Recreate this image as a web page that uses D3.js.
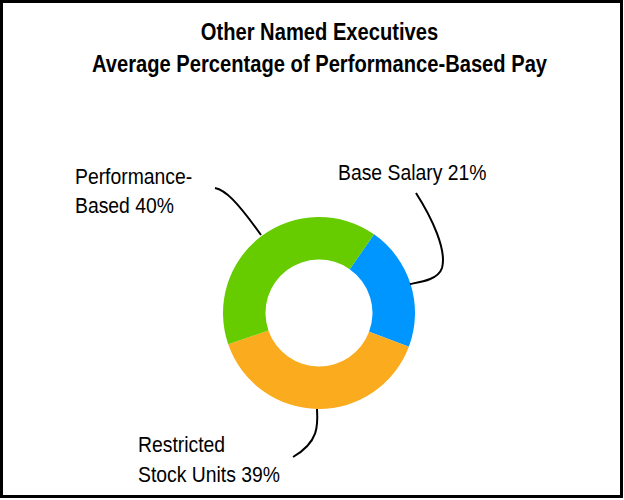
<!DOCTYPE html>
<html>
<head>
<meta charset="utf-8">
<script src="https://cdn.jsdelivr.net/npm/d3@7"></script>
<style>
  html, body { margin: 0; padding: 0; background: #fff; }
  svg { display: block; }
  text { font-family: "Liberation Sans", Arial, sans-serif; fill: #000; }
</style>
</head>
<body>
<svg id="chart" width="624" height="500"></svg>
<script>
// ---- data ----
const titleLines = ["Other Named Executives", "Average Percentage of Performance-Based Pay"];
const categories = ["Base Salary", "Restricted Stock Units", "Performance-Based"];
const values = [21, 39, 40];
const colors = ["#0096FF", "#FAAC1E", "#66CC00"];
const labelLines = [
  ["Base Salary 21%"],
  ["Restricted", "Stock Units 39%"],
  ["Performance-", "Based 40%"]
];

// ---- layout ----
const W = 624, H = 500;
const cx = 319, cy = 313, outerR = 96, innerR = 53.5;
const startDeg = 35;
const labelPos = [
  { x: 338, y: 179.5 },
  { x: 138, y: 452 },
  { x: 75, y: 183.5 }
];
const lineH = 29.5;
const leaders = [
  "M416,193 C432,218 447,250 442,268 C438,280 420,282 410,284",
  "M317,409 C318,425 319,442 293,457",
  "M215,188 C225,190 236,200 261,235"
];

const svg = d3.select("#chart");

svg.append("rect")
  .attr("x", 1.5).attr("y", 1.5)
  .attr("width", 620).attr("height", 495)
  .attr("fill", "#fff").attr("stroke", "#000").attr("stroke-width", 3);

// title
titleLines.forEach((t, i) => {
  svg.append("g")
    .attr("transform", `translate(319.5,${40 + i * 31.5}) scale(0.84,1)`)
    .append("text")
    .attr("text-anchor", "middle")
    .attr("font-size", 24)
    .attr("font-weight", "bold")
    .text(t);
});

// donut
const start = startDeg * Math.PI / 180;
const pie = d3.pie().sort(null).value(d => d).startAngle(start).endAngle(start + 2 * Math.PI);
const arc = d3.arc().innerRadius(innerR).outerRadius(outerR);
svg.append("g")
  .attr("transform", `translate(${cx},${cy})`)
  .selectAll("path")
  .data(pie(values))
  .join("path")
  .attr("d", arc)
  .attr("fill", (d, i) => colors[i]);

// leader lines
svg.selectAll("path.leader")
  .data(leaders)
  .join("path")
  .attr("class", "leader")
  .attr("d", d => d)
  .attr("fill", "none")
  .attr("stroke", "#000")
  .attr("stroke-width", 2);

// labels
labelLines.forEach((lines, i) => {
  lines.forEach((t, j) => {
    svg.append("g")
      .attr("transform", `translate(${labelPos[i].x},${labelPos[i].y + j * lineH}) scale(0.88,1)`)
      .append("text")
      .attr("font-size", 22)
      .text(t);
  });
});
</script>
</body>
</html>
